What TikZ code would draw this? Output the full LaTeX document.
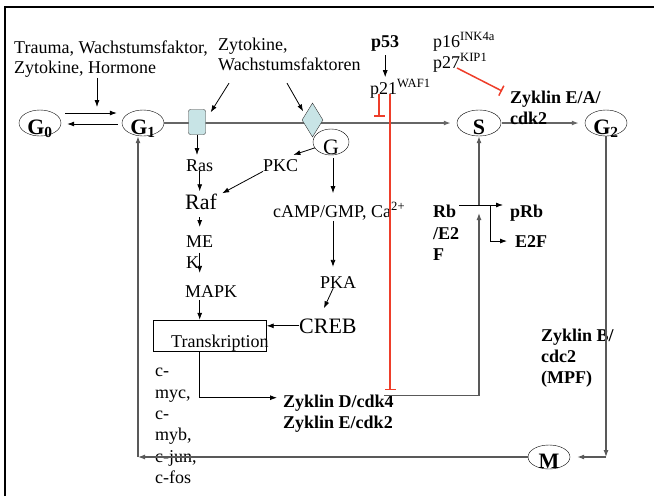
\documentclass[tikz,border=0pt]{standalone}
\usepackage{fontspec}
\setmainfont{Liberation Serif}
\usetikzlibrary{shapes.geometric,arrows.meta,calc}
\definecolor{inhred}{RGB}{238,62,42}
\definecolor{recblue}{RGB}{200,228,230}
\tikzset{
  txt/.style={inner sep=0pt, align=left, font=\fontsize{18}{21}\selectfont},
  btxt/.style={txt, font=\fontsize{18}{21}\selectfont\bfseries},
  phase/.style={ellipse, draw, fill=white, inner sep=0pt, minimum width=42pt, minimum height=26pt, font=\fontsize{22}{22}\selectfont\bfseries},
  arr/.style={-{Latex[length=7pt,width=5pt]}, line width=0.8pt},
  gline/.style={draw=black!65, line width=1.2pt},
  inhibit/.style={-{Bar[width=11pt]}, draw=inhred, line width=1.5pt},
}
\newcommand{\phlbl}[1]{\raisebox{-11pt}[0pt][0pt]{#1}}
\begin{document}
\begin{tikzpicture}[x=1pt,y=-1pt]
  \useasboundingbox (0,0) rectangle (654,496);
  \draw[line width=2.5pt] (5,496) -- (5,7) -- (654,7);
  % cell cycle phases
  \node[phase] (g0) at (40,123) {\phlbl{G\textsubscript{0}}};
  \node[phase] (g1) at (143,123) {\phlbl{G\textsubscript{1}}};
  \node[phase,minimum width=44pt] (s) at (479,123) {\phlbl{S}};
  \node[phase] (g2) at (606,123) {\phlbl{G\textsubscript{2}}};
  \node[phase,minimum height=24pt] (m) at (549,457) {\phlbl{M}};
  \draw[arr] ([xshift=4pt,yshift=10pt]g0.east) -- ([xshift=-5pt,yshift=10pt]g1.west);
  \draw[arr] ([xshift=-4pt,yshift=-1pt]g1.west) -- ([xshift=6pt,yshift=-1pt]g0.east);
  \draw[arr,draw=black!60,line width=1.8pt,shorten >=6pt] (g1.east) -- (s.west);
  \draw[arr,draw=black!60,line width=1.8pt,shorten >=6pt,shorten <=1pt] (s.east) -- (g2.west);
  % receptors on the line
  \node[draw=black!80, fill=recblue, rounded corners=2pt, minimum width=17pt, minimum height=25pt, inner sep=0pt] (rec) at (197,122) {};
  \node[diamond, draw=black!80, fill=recblue, minimum width=21pt, minimum height=34pt, inner sep=0pt] (diam) at (312.5,120) {};
  \node[ellipse, draw, fill=white, inner sep=0pt, minimum width=36pt, minimum height=26pt, font=\fontsize{22}{22}\selectfont] (gp) at (331,142) {\raisebox{-12pt}[0pt][0pt]{G}};
  % signals from outside
  \node[txt, font=\fontsize{18}{20}\selectfont, anchor=north west] (trauma) at (14,41) {Trauma, Wachstumsfaktor,\\Zytokine, Hormone};
  \node[txt, font=\fontsize{18}{20}\selectfont, anchor=north west] (zyto) at (218,38) {Zytokine,\\Wachstumsfaktoren};
  \coordinate (tin) at (97,107);
  \draw[arr] (trauma.south -| tin) -- (tin);
  \draw[arr] ([xshift=11pt,yshift=-12pt]zyto.south west) -- ([xshift=5pt,yshift=-3pt]rec.north east);
  \draw[arr] ([xshift=69pt,yshift=-12pt]zyto.south west) -- ([xshift=-4pt]diam.north west);
  % MAP kinase cascade
  \node[txt, anchor=base west] (ras) at (186,171) {Ras};
  \node[txt, anchor=base west] (pkc) at (263,171) {PKC};
  \node[txt, font=\fontsize{22}{22}\selectfont, anchor=base west] (raf) at (185,209) {Raf};
  \node[txt, anchor=north west] (mek) at (186,236) {ME\\K};
  \node[txt, anchor=base west] (mapk) at (185,297) {MAPK};
  \node[draw, minimum width=113pt, minimum height=31pt, inner sep=0pt] (tbox) at (210,335.5) {};
  \node[txt, anchor=base west] (transk) at (171,347) {Transkription};
  \draw[arr,shorten >=4pt] (rec.south) -- (rec.south |- ras.north);
  \draw[arr,shorten >=2pt] (ras.south) -- (ras.south |- raf.north);
  \draw[arr] (gp.200) -- ([xshift=-5pt,yshift=4pt]pkc.north east);
  \draw[arr] (pkc.south west) -- ([xshift=5pt]raf.north east);
  \draw[arr,shorten <=8pt,shorten >=9pt] (ras.south |- raf.south) -- (ras.south |- mek.north);
  \draw[arr,shorten >=12pt] (ras.south |- mek.center) -- (ras.south |- mapk.north);
  \draw[arr,shorten <=3pt] (ras.south |- mapk.south) -- (ras.south |- tbox.north);
  % second messengers
  \node[txt, anchor=base west] (camp) at (273,217) {cAMP/GMP, Ca\textsuperscript{2+}};
  \node[txt, anchor=base west] (pka) at (320,288) {PKA};
  \node[txt, font=\fontsize{22}{22}\selectfont, anchor=base west] (creb) at (299,333) {CREB};
  \coordinate (gcol) at ([xshift=2pt]gp.south);
  \draw[arr,shorten <=3pt,shorten >=9pt] (gcol) -- (gcol |- camp.north);
  \draw[arr,shorten <=1pt,shorten >=9pt] (gcol |- camp.south) -- (gcol |- pka.north);
  \draw[arr] ([xshift=-5pt]pka.south) -- ([xshift=-4pt,yshift=10pt]creb.north);
  \draw[arr] (creb.west) -- (creb.west -| tbox.east);
  % cyclins
  \node[txt, font=\fontsize{18}{21.4}\selectfont, anchor=north west] (cgenes) at (155,368) {c-\\myc,\\c-\\myb,\\c-jun,\\c-fos};
  \node[btxt, anchor=base west] (zykd) at (283,407) {Zyklin D/cdk4};
  \node[btxt, anchor=base west] (zyke) at (283,428) {Zyklin E/cdk2};
  \node[btxt, anchor=north west] (zyklea) at (510,91) {Zyklin E/A/\\cdk2};
  \node[btxt, anchor=north west] (zykb) at (541,329) {Zyklin B/\\cdc2\\(MPF)};
  \draw[arr,shorten >=6pt] (ras.south |- tbox.south) |- ([yshift=5pt]zykd.west);
  % Rb / E2F
  \node[btxt, font=\fontsize{18}{21.5}\selectfont\bfseries, anchor=north west] (rbe) at (433,205) {Rb\\/E2\\F};
  \node[btxt, anchor=base west] (prb) at (510,217) {pRb};
  \node[btxt, anchor=base west] (e2f) at (515,247) {E2F};
  \coordinate (rbx) at (479,205);
  \draw[arr,gline] ([xshift=-10pt,yshift=7pt]zykd.east) -| ([yshift=-8pt]rbx);
  \draw[arr,gline] (rbx) -- (s.south);
  \draw[arr,shorten >=7pt] (rbx -| rbe.east) -- (rbx -| prb.west);
  \draw[arr,shorten >=8pt] ([xshift=11pt]rbx) |- (e2f.west);
  % back to G1
  \coordinate (g1col) at ([xshift=-5pt]g1.south);
  \draw[arr,gline] (g2.south) -- (g2.south |- m.east);
  \draw[arr,gline,shorten >=7pt] (g2.south |- m.east) -- (m.east);
  \draw[arr,gline] (m.west) -- (m.west -| g1col);
  \draw[arr,gline] (m.west -| g1col) -- (g1col);
  % inhibitors
  \node[btxt, anchor=base west] (p53) at (371,47) {p53};
  \node[txt, anchor=base west] (p21) at (370,94) {p21\textsuperscript{WAF1}};
  \node[txt, anchor=base west] (p16) at (433,47) {p16\textsuperscript{INK4a}};
  \node[txt, anchor=base west] (p27) at (433,68) {p27\textsuperscript{KIP1}};
  \draw[arr,shorten <=4pt,shorten >=2pt] (p53.south) -- (p53.south |- p21.north);
  \coordinate (p21a) at ($(p21.base west)+(9,0)$);
  \coordinate (p21b) at ($(p21.base west)+(20,0)$);
  \draw[inhibit,line width=2.2pt,shorten >=6pt] (p21a) -- (p21a |- g1.east);
  \draw[inhibit,shorten >=4pt] (p21b) -- (p21b |- zykd.north);
  \draw[inhibit] ($(p27.base west)+(24,0)$) -- ([xshift=-8pt]zyklea.north west);
\end{tikzpicture}
\end{document}
